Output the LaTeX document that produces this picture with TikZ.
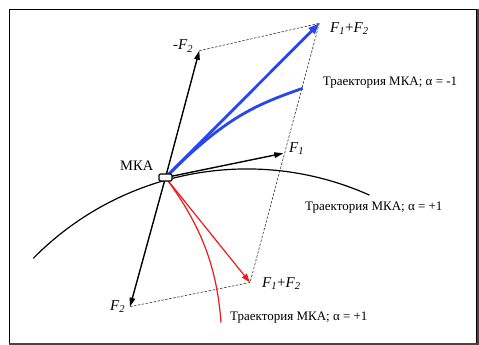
\documentclass[tikz,border=0pt]{standalone}
\usepackage{fontspec}
\setmainfont{Liberation Serif}
\usetikzlibrary{arrows.meta}
\definecolor{myblue}{RGB}{40,70,235}
\definecolor{myred}{RGB}{240,25,25}
\definecolor{frameshade}{RGB}{70,70,70}
\begin{document}
\begin{tikzpicture}[x=1pt,y=-1pt,
  vec/.style={line width=1.4pt,-{Triangle[length=9pt,width=5.5pt]}},
  bluevec/.style={line width=2.8pt,myblue,-{Triangle[length=11pt,width=8pt]}},
  redvec/.style={line width=1.2pt,myred,-{Triangle[length=9pt,width=6pt]}},
  aux/.style={line width=0.6pt,black!80,dash pattern=on 2.5pt off 1.5pt},
  flabel/.style={anchor=base west,inner sep=0pt,font=\fontsize{15}{18}\selectfont},
  tlabel/.style={anchor=base west,inner sep=0pt,font=\fontsize{13}{15}\selectfont},
  kabox/.style={draw,fill=white,rounded corners=1.2pt,line width=1.2pt,minimum width=13pt,minimum height=7pt,inner sep=0pt}
]
\useasboundingbox (0,0) rectangle (479,345);
% frame
\fill[frameshade] (9,9) rectangle (479,345);
\fill[black] (9,9) rectangle (476.5,343);
\fill[white] (10.4,10.4) rectangle (476,342.6);

% points
\coordinate (O) at (165.5,177.5);
\coordinate (mF2) at (199.3,50.7);
\coordinate (F2) at (130,306.7);
\coordinate (F1) at (283.3,153.3);
\coordinate (S1) at (319.3,23.3);
\coordinate (S2) at (250,282.5);
\coordinate (BE) at (302.7,88.3);
\coordinate (RE) at (221,322.5);

% parallelogram dashed lines
\draw[aux] (mF2) -- (S1);
\draw[aux] (S1) -- (S2);
\draw[aux] (F2) -- (S2);

% orbit
\draw[line width=1.2pt] (33.3,258.3) arc[start angle=-135.4,end angle=-65.9,radius=300];

% trajectories
\draw[line width=2.8pt,myblue] (O) .. controls (225.4,117.2) and (255.5,104.8) .. (BE);
\draw[line width=1.2pt,myred] (O) .. controls (201.3,225.7) and (216.9,267) .. (RE);

% vectors
\draw[bluevec] (O) -- (S1);
\draw[redvec] (O) -- (S2);
\draw[vec] (O) -- (mF2);
\draw[vec] (O) -- (F2);
\draw[vec] (O) -- (F1);

% spacecraft
\node[kabox] (ka) at (O) {};

% labels
\node[flabel] (lmF2) at (173,50) {-\textit{F}\textsubscript{\textit{2}}};
\node[flabel] (lF2) at (110,310) {\textit{F}\textsubscript{\textit{2}}};
\node[flabel] (lF1) at (289,152) {\textit{F}\textsubscript{\textit{1}}};
\node[flabel] (lS1) at (330,32.5) {\textit{F}\textsubscript{\textit{1}}+\textit{F}\textsubscript{\textit{2}}};
\node[flabel] (lS2) at (262,287) {\textit{F}\textsubscript{\textit{1}}+\textit{F}\textsubscript{\textit{2}}};
\node[anchor=base west,inner sep=0pt,font=\fontsize{14.5}{17}\selectfont] (lka) at (120,170) {МКА};
\node[tlabel] (t1) at (322.7,85) {Траектория МКА; α = -1};
\node[tlabel] (t2) at (305,210) {Траектория МКА; α = +1};
\node[tlabel] (t3) at (230,320) {Траектория МКА; α = +1};
\end{tikzpicture}
\end{document}
